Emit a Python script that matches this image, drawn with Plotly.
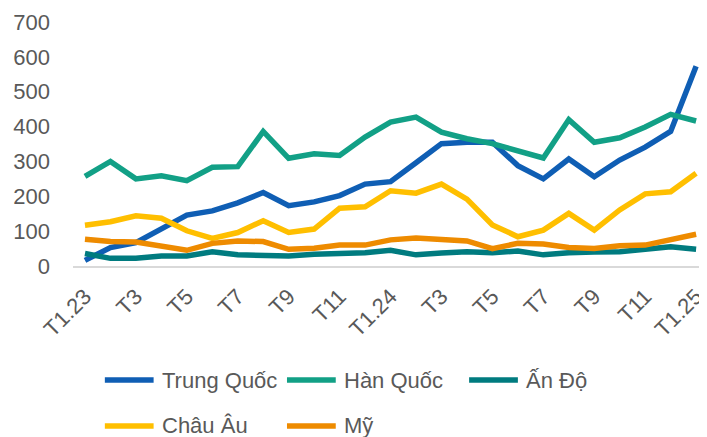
import plotly.graph_objects as go

# ---- data ----
tick_labels = ["T1.23", "T3", "T5", "T7", "T9", "T11", "T1.24",
               "T3", "T5", "T7", "T9", "T11", "T1.25"]
tick_step = 2

series_names = ["Trung Quốc", "Hàn Quốc", "Ấn Độ", "Châu Âu", "Mỹ"]

trung_quoc = [16, 53, 67, 108, 146, 158, 181, 211, 173, 184, 202, 235, 242,
              296, 351, 355, 355, 288, 250, 307, 256, 304, 341, 386, 573]
han_quoc = [257, 300, 250, 259, 245, 283, 285, 386, 309, 322, 317, 370, 413,
            427, 384, 365, 351, 331, 310, 420, 355, 368, 399, 435, 416]
an_do = [36, 22, 22, 29, 29, 41, 32, 32, 29, 34, 37, 38, 45,
         32, 37, 41, 38, 43, 32, 38, 40, 41, 48, 55, 48]
chau_au = [117, 127, 144, 137, 101, 79, 96, 130, 96, 106, 166, 170, 216,
           209, 235, 192, 118, 84, 103, 151, 103, 161, 207, 213, 266]
my = [77, 70, 69, 58, 45, 65, 72, 70, 48, 51, 60, 60, 75,
      80, 77, 72, 50, 65, 63, 53, 50, 58, 60, 77, 91]

series_values = [trung_quoc, han_quoc, an_do, chau_au, my]
colors = ["#0F5EB4", "#12A086", "#007B7F", "#FFBF00", "#EE8B00"]

y_ticks = [0, 100, 200, 300, 400, 500, 600, 700]

# ---- figure (page body has an 8px margin) ----
OFF = 8
W, H = 707 - OFF, 437 - OFF
L = 73 - OFF
T = 22 - OFF
R = 0
B = H - (266 - OFF)
plot_w = W - L - R
plot_h = H - T - B

fig = go.Figure()
x_vals = list(range(len(trung_quoc)))
for name, vals, col in zip(series_names, series_values, colors):
    fig.add_trace(go.Scatter(
        x=x_vals, y=vals, name=name, mode="lines",
        line=dict(color=col, width=5.5),
        showlegend=False,
    ))

font_family = "Liberation Sans, Arial, sans-serif"
txt_color = "#595959"


def px_to_paper_x(px):
    return (px - OFF - L) / plot_w


def px_to_paper_y(py):
    return (H - B - (py - OFF)) / plot_h


# manual legend (Excel-style grid), positions in window pixels
shapes = []
annotations = []
for i, (name, col) in enumerate(zip(series_names, colors)):
    c, r = i % 3, i // 3
    x0 = 102 + 183 * c
    y = 380 + 46 * r
    shapes.append(dict(type="line", xref="paper", yref="paper",
                       x0=px_to_paper_x(x0 + 3), x1=px_to_paper_x(x0 + 52),
                       y0=px_to_paper_y(y), y1=px_to_paper_y(y),
                       line=dict(color=col, width=5.5)))
    annotations.append(dict(xref="paper", yref="paper",
                            x=px_to_paper_x(x0 + 58), y=px_to_paper_y(y),
                            xanchor="left", yanchor="middle", showarrow=False,
                            text=name, font=dict(size=22, color=txt_color,
                                                 family=font_family)))

fig.update_layout(
    width=W, height=H,
    margin=dict(l=L, r=R, t=T, b=B, pad=0),
    paper_bgcolor="white", plot_bgcolor="white",
    font=dict(family=font_family, size=22, color=txt_color),
    shapes=shapes, annotations=annotations,
    showlegend=False,
)
fig.update_xaxes(
    range=[-0.47, 24.31],
    tickmode="array",
    tickvals=[i * tick_step for i in range(len(tick_labels))],
    ticktext=tick_labels,
    tickangle=-45,
    showgrid=False, zeroline=False,
    showline=True, linecolor="#D9D9D9", linewidth=2,
    ticks="", ticklabelstandoff=7,
    ticklabeloverflow="allow",
    tickfont=dict(size=22, color=txt_color),
)
fig.update_yaxes(
    range=[0, 700],
    tickmode="array", tickvals=y_ticks,
    showgrid=False, zeroline=False, showline=False,
    ticks="", ticklabelstandoff=22,
    tickfont=dict(size=22, color=txt_color),
)

fig.write_html("out.html")
